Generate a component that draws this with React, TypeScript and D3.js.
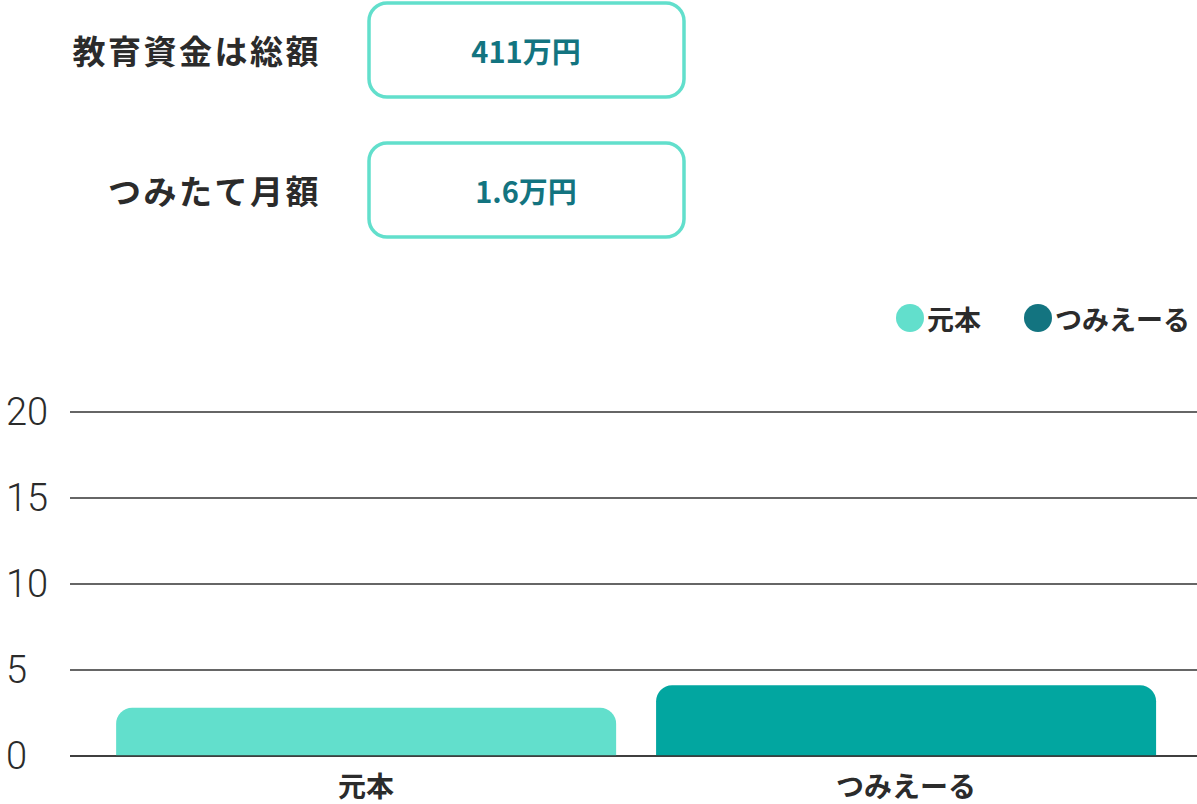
import * as d3 from "d3";

const categories = ["元本", "つみえーる"];
const values = [2.8, 4.11];
const barColors = ["#62dfcc", "#02a6a0"];
const legendLabels = ["元本", "つみえーる"];
const legendColors = ["#62dfcc", "#137480"];
const yTicks = [0, 5, 10, 15, 20];
const infoLabels = ["教育資金は総額", "つみたて月額"];
const infoValues = ["411万円", "1.6万円"];

const width = 1197;
const height = 804;
const jp = "'Noto Sans CJK JP', 'Noto Sans', sans-serif";

function topRoundedBar(x: number, y: number, w: number, h: number, r: number) {
  const rr = Math.min(r, h, w / 2);
  const p = d3.path();
  p.moveTo(x, y + h);
  p.lineTo(x, y + rr);
  p.arcTo(x, y, x + rr, y, rr);
  p.lineTo(x + w - rr, y);
  p.arcTo(x + w, y, x + w, y + rr, rr);
  p.lineTo(x + w, y + h);
  p.closePath();
  return p.toString();
}

export default function App() {
  const x = d3
    .scaleBand()
    .domain(categories)
    .range([70, 1197])
    .paddingInner(0.074)
    .paddingOuter(0.0806)
    .align(0.53);
  const y = d3.scaleLinear().domain([0, 20]).range([756, 412]);

  return (
    <svg
      width={width}
      height={height}
      style={{ position: "absolute", left: 0, top: 0, background: "#fff" }}
    >
      {infoLabels.map((lab, i) => {
        const cy = 50 + i * 140;
        return (
          <g key={lab}>
            <text
              x={321}
              y={cy}
              textAnchor="end"
              dominantBaseline="central"
              fontFamily={jp}
              fontWeight={700}
              fontSize={33}
              letterSpacing={2.5}
              fill="#2b2b2b"
            >
              {lab}
            </text>
            <rect
              x={369}
              y={cy - 47}
              width={315}
              height={94}
              rx={18}
              fill="#fff"
              stroke="#62dfcc"
              strokeWidth={3.5}
            />
            <text
              x={526}
              y={cy}
              textAnchor="middle"
              dominantBaseline="central"
              fontFamily={jp}
              fontWeight={700}
              fontSize={29}
              fill="#137480"
            >
              {infoValues[i]}
            </text>
          </g>
        );
      })}

      {legendLabels.map((lab, i) => {
        const cx = i === 0 ? 910 : 1038;
        return (
          <g key={lab}>
            <circle cx={cx} cy={318} r={14} fill={legendColors[i]} />
            <text
              x={cx + 17}
              y={318}
              dominantBaseline="central"
              fontFamily={jp}
              fontWeight={700}
              fontSize={27}
              fill="#2b2b2b"
            >
              {lab}
            </text>
          </g>
        );
      })}

      {yTicks.map((t) => (
        <g key={t}>
          <line
            x1={70}
            x2={1197}
            y1={y(t)}
            y2={y(t)}
            stroke="#333"
            strokeWidth={1.6}
          />
          <text
            x={6}
            y={y(t)}
            dominantBaseline="central"
            fontFamily="Roboto, sans-serif"
            fontWeight={300}
            fontSize={38}
            fill="#2b2b2b"
          >
            {t}
          </text>
        </g>
      ))}

      {categories.map((c, i) => {
        const bx = x(c) as number;
        const by = y(values[i]);
        return (
          <path
            key={c}
            d={topRoundedBar(bx, by, x.bandwidth(), y(0) - by, 16)}
            fill={barColors[i]}
          />
        );
      })}
      <line x1={70} x2={1197} y1={y(0)} y2={y(0)} stroke="#333" strokeWidth={1.6} />

      {categories.map((c) => (
        <text
          key={c}
          x={(x(c) as number) + x.bandwidth() / 2}
          y={785}
          textAnchor="middle"
          dominantBaseline="central"
          fontFamily={jp}
          fontWeight={700}
          fontSize={28}
          fill="#2b2b2b"
        >
          {c}
        </text>
      ))}
    </svg>
  );
}
